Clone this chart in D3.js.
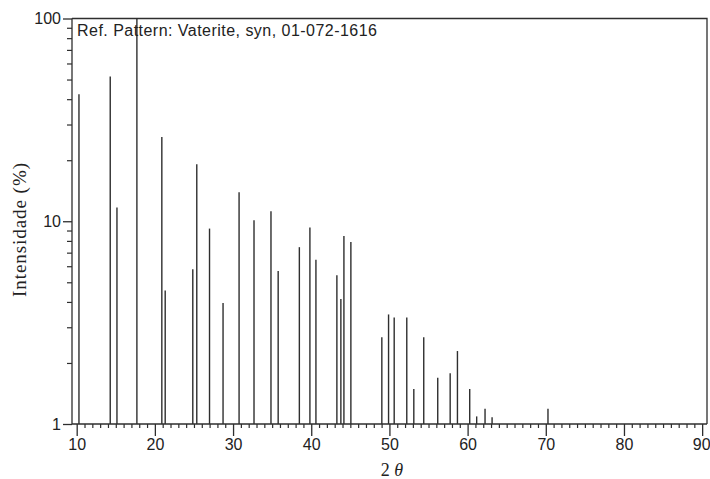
<!DOCTYPE html>
<html>
<head>
<meta charset="utf-8">
<script src="https://cdn.jsdelivr.net/npm/d3@7"></script>
<style>
  html, body { margin: 0; padding: 0; background: #fff; }
  svg { display: block; }
  .tick text { font-family: "Liberation Sans", Arial, sans-serif; }
</style>
</head>
<body>
<svg id="chart" width="710" height="479"></svg>
<script>
// Reference pattern peaks: 2θ position (degrees) and relative intensity (%)
const twoTheta = [
  10.29, 14.29, 15.15, 17.70, 20.89, 21.32, 24.85, 25.36, 26.99, 28.72,
  30.77, 32.68, 34.85, 35.77, 38.48, 39.83, 40.60, 43.28, 43.79, 44.18,
  45.07, 49.03, 49.89, 50.61, 52.22, 53.12, 54.39, 56.18, 57.77, 58.70,
  60.27, 61.16, 62.23, 63.13, 70.28
];
const intensity = [
  42.3, 51.7, 11.7, 100, 26.0, 4.55, 5.8, 19.1, 9.2, 3.95,
  13.9, 10.1, 11.2, 5.68, 7.45, 9.31, 6.45, 5.42, 4.13, 8.45,
  7.91, 2.68, 3.47, 3.35, 3.35, 1.49, 2.68, 1.69, 1.78, 2.29,
  1.49, 1.09, 1.19, 1.08, 1.19
];
const xTicks = [10, 20, 30, 40, 50, 60, 70, 80, 90];
const yTicks = [1, 10, 100];
const title = "Ref. Pattern: Vaterite, syn, 01-072-1616";

const svg = d3.select("#chart");
const ink = "#2e2e2e";

const plotLeft = 72, plotRight = 707, plotTop = 18.5, plotBottom = 424;

const x = d3.scaleLinear().domain([9.4, 90.62]).range([plotLeft, plotRight]);
const y = d3.scaleLog().domain([1, 100]).range([plotBottom, plotTop]);

// minor tick values
const xMinor = d3.range(10, 91, 1).filter(v => v % 10 !== 0);
const yMinor = [];
[1, 10].forEach(d => { for (let k = 2; k <= 9; k++) yMinor.push(d * k); });

// frame (top and right edges)
svg.append("path")
  .attr("d", `M${plotLeft},${plotTop}H${plotRight}V${plotBottom}`)
  .attr("fill", "none").attr("stroke", ink).attr("stroke-width", 1.3);

// x axis: minor then major ticks
svg.append("g").attr("transform", `translate(0,${plotBottom})`)
  .call(d3.axisBottom(x).tickValues(xMinor).tickSize(4).tickFormat(""))
  .call(g => g.select(".domain").remove())
  .call(g => g.selectAll("line").attr("stroke", ink).attr("stroke-width", 1.2));

svg.append("g").attr("transform", `translate(0,${plotBottom})`)
  .call(d3.axisBottom(x).tickValues(xTicks).tickSize(12).tickPadding(3).tickFormat(d3.format("d")))
  .call(g => g.select(".domain").attr("stroke", ink).attr("stroke-width", 1.3)
    .attr("d", `M${plotLeft},0H${plotRight}`))
  .call(g => g.selectAll("line").attr("stroke", ink).attr("stroke-width", 1.3))
  .call(g => g.selectAll("text").attr("fill", "#222").attr("font-size", 16))
  // keep the last label inside the right edge of the page
  .call(g => g.selectAll(".tick").filter(d => d === 90).select("text")
    .attr("text-anchor", "end").attr("x", 8));

// y axis: minor then major ticks
svg.append("g").attr("transform", `translate(${plotLeft},0)`)
  .call(d3.axisLeft(y).tickValues(yMinor).tickSize(5).tickFormat(""))
  .call(g => g.select(".domain").remove())
  .call(g => g.selectAll("line").attr("stroke", ink).attr("stroke-width", 1.2));

svg.append("g").attr("transform", `translate(${plotLeft},0)`)
  .call(d3.axisLeft(y).tickValues(yTicks).tickSize(9).tickPadding(2).tickFormat(d3.format("d")))
  .call(g => g.select(".domain").attr("stroke", ink).attr("stroke-width", 1.3)
    .attr("d", `M0,${plotTop}V${plotBottom}`))
  .call(g => g.selectAll("line").attr("stroke", ink).attr("stroke-width", 1.3))
  .call(g => g.selectAll("text").attr("fill", "#222").attr("font-size", 16));

// peak sticks
svg.append("g").selectAll("line")
  .data(twoTheta.map((t, i) => ({ t, v: intensity[i] })))
  .join("line")
  .attr("x1", d => x(d.t)).attr("x2", d => x(d.t))
  .attr("y1", y(1)).attr("y2", d => y(d.v))
  .attr("stroke", ink).attr("stroke-width", 1.4);

// pattern caption
svg.append("text")
  .attr("x", plotLeft + 5).attr("y", 35.5)
  .attr("font-family", "Liberation Sans, Arial, sans-serif")
  .attr("font-size", 16).attr("fill", "#222")
  .attr("textLength", 300).attr("lengthAdjust", "spacing")
  .text(title);

// axis titles
svg.append("text")
  .attr("transform", `translate(26,230) rotate(-90)`)
  .attr("text-anchor", "middle")
  .attr("font-family", "Liberation Serif, Times New Roman, serif")
  .attr("font-size", 19).attr("fill", "#222")
  .attr("textLength", 134).attr("lengthAdjust", "spacing")
  .text("Intensidade (%)");

const xt = svg.append("text")
  .attr("x", 392).attr("y", 476)
  .attr("text-anchor", "middle")
  .attr("font-family", "Liberation Serif, Times New Roman, serif")
  .attr("font-size", 18).attr("fill", "#222");
xt.append("tspan").text("2 ");
xt.append("tspan").attr("font-style", "italic").text("θ");
</script>
</body>
</html>
